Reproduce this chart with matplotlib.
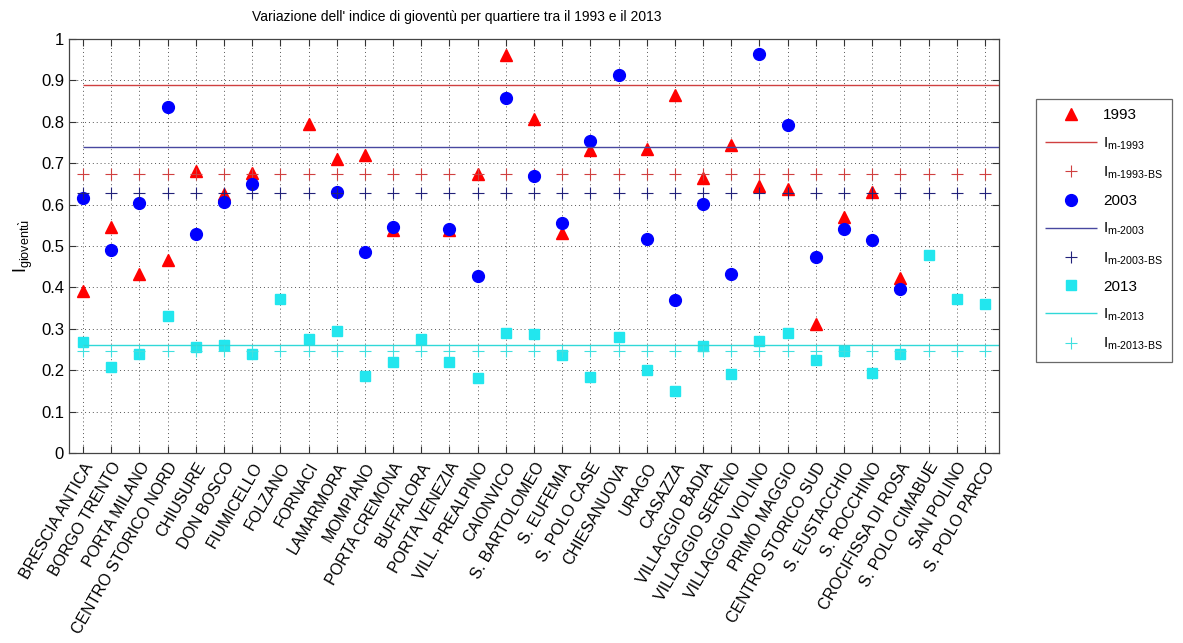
import numpy as np
import matplotlib
matplotlib.use("Agg")
import matplotlib.pyplot as plt
from matplotlib.ticker import FormatStrFormatter

plt.rcParams['font.family'] = ['Liberation Sans', 'DejaVu Sans']
plt.rcParams['mathtext.fontset'] = 'custom'
plt.rcParams['mathtext.rm'] = 'Liberation Sans'
plt.rcParams['mathtext.it'] = 'Liberation Sans'

nan = np.nan

quartieri = ['BRESCIA ANTICA', 'BORGO TRENTO', 'PORTA MILANO', 'CENTRO STORICO NORD',
             'CHIUSURE', 'DON BOSCO', 'FIUMICELLO', 'FOLZANO', 'FORNACI', 'LAMARMORA',
             'MOMPIANO', 'PORTA CREMONA', 'BUFFALORA', 'PORTA VENEZIA', 'VILL. PREALPINO',
             'CAIONVICO', 'S. BARTOLOMEO', 'S. EUFEMIA', 'S. POLO CASE', 'CHIESANUOVA',
             'URAGO', 'CASAZZA', 'VILLAGGIO BADIA', 'VILLAGGIO SERENO', 'VILLAGGIO VIOLINO',
             'PRIMO MAGGIO', 'CENTRO STORICO SUD', 'S. EUSTACCHIO', 'S. ROCCHINO',
             'CROCIFISSA DI ROSA', 'S. POLO CIMABUE', 'SAN POLINO', 'S. POLO PARCO']

# indice di gioventu' per quartiere (nan = quartiere non ancora esistente)
ig_1993 = [0.391, 0.547, 0.432, 0.466, 0.680, 0.625, 0.676, nan, 0.794, 0.711,
           0.721, 0.539, nan, 0.539, 0.674, 0.961, 0.807, 0.531, 0.733, nan,
           0.734, 0.866, 0.665, 0.744, 0.645, 0.638, 0.312, 0.570, 0.631, 0.423,
           nan, nan, nan]
ig_2003 = [0.617, 0.491, 0.605, 0.835, 0.530, 0.607, 0.649, nan, nan, 0.630,
           0.486, 0.546, nan, 0.540, 0.427, 0.857, 0.670, 0.555, 0.754, 0.912,
           0.517, 0.370, 0.602, 0.433, 0.963, 0.793, 0.473, 0.542, 0.515, 0.395,
           nan, nan, nan]
ig_2013 = [0.268, 0.207, 0.238, 0.331, 0.257, 0.261, 0.240, 0.372, 0.276, 0.295,
           0.187, 0.219, 0.275, 0.221, 0.182, 0.289, 0.287, 0.237, 0.183, 0.280,
           0.201, 0.150, 0.258, 0.192, 0.271, 0.290, 0.224, 0.246, 0.194, 0.239,
           0.478, 0.371, 0.361]

# medie: quartieri e intera citta' di Brescia (BS)
media_1993, media_1993_bs = 0.889, 0.675
media_2003, media_2003_bs = 0.739, 0.627
media_2013, media_2013_bs = 0.260, 0.246

x = np.arange(1, len(quartieri) + 1)

fig = plt.figure(figsize=(11.83, 6.43), dpi=100)
ax = fig.add_axes([0.0583, 0.2955, 0.7862, 0.6438])

ax.plot(x, ig_1993, linestyle='none', marker='^', ms=9, color='#ff0000', label='1993')
ax.hlines(media_1993, 1, x[-1] + 0.5, color='#d04040', lw=1.0, label=r'I$_{\text{m-1993}}$')
ax.plot(x, np.full(len(x), media_1993_bs), linestyle='none', marker='+', ms=9, mew=0.8,
        color='#d04040', label=r'I$_{\text{m-1993-BS}}$')

ax.plot(x, ig_2003, linestyle='none', marker='o', ms=8.5, color='#0000ff', label='2003')
ax.hlines(media_2003, 1, x[-1] + 0.5, color='#4848a0', lw=1.0, label=r'I$_{\text{m-2003}}$')
ax.plot(x, np.full(len(x), media_2003_bs), linestyle='none', marker='+', ms=9, mew=0.8,
        color='#22227a', label=r'I$_{\text{m-2003-BS}}$')

ax.plot(x, ig_2013, linestyle='none', marker='s', ms=7, color='#22e6ee', label='2013')
ax.hlines(media_2013, 1, x[-1] + 0.5, color='#30d8d8', lw=1.0, label=r'I$_{\text{m-2013}}$')
ax.plot(x, np.full(len(x), media_2013_bs), linestyle='none', marker='+', ms=9, mew=0.8,
        color='#40e0e0', label=r'I$_{\text{m-2013-BS}}$')

ax.set_xlim(0.5, len(quartieri) + 0.5)
ax.set_ylim(0, 1)
ax.set_xticks(x)
ax.set_xticklabels(quartieri, rotation=60, ha='right', rotation_mode='anchor', fontsize=11.5)
ax.set_yticks(np.arange(0, 1.01, 0.1))
ax.yaxis.set_major_formatter(FormatStrFormatter('%g'))
ax.tick_params(axis='both', direction='in', top=True, right=True, length=5,
               color='#333333', labelsize=12)
ax.tick_params(axis='x', labelsize=11.5, pad=5)
ax.grid(True, linestyle=(0, (1, 3)), color='#555555', lw=0.7)
for s in ax.spines.values():
    s.set_color('#444444')
    s.set_linewidth(0.9)

ax.set_ylabel(r'I$_{\mathrm{giovent\`u}}$', fontsize=13, labelpad=4)
fig.text(457 / 1183, 1 - 17 / 643,
         "Variazione dell' indice di gioventù per quartiere tra il 1993 e il 2013",
         ha='center', va='center', fontsize=10)

leg = fig.legend(loc='upper left', bbox_to_anchor=(1036 / 1183, 1 - 99 / 643),
                 bbox_transform=fig.transFigure, fontsize=11, frameon=True,
                 fancybox=False, edgecolor='#444444', handlelength=3.4,
                 labelspacing=0.85, borderpad=0.6, handletextpad=0.4,
                 borderaxespad=0)
leg.get_frame().set_linewidth(0.9)

fig.savefig('out.png', dpi=100)
